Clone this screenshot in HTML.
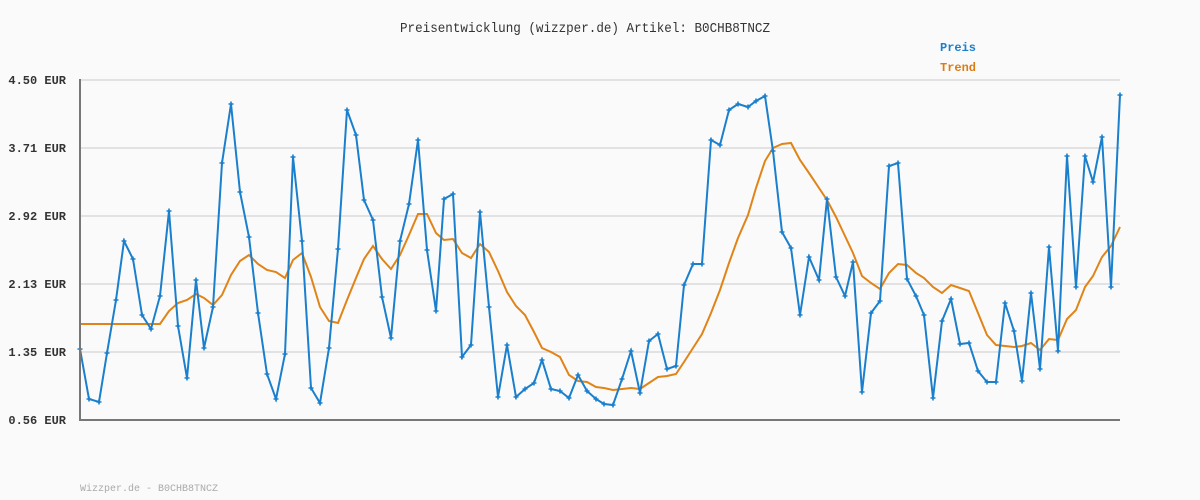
<!DOCTYPE html>
<html><head><meta charset="utf-8"><style>body{margin:0;background:#fafafa}svg{display:block}</style></head><body>
<svg width="1200" height="500" xmlns="http://www.w3.org/2000/svg" font-family="Liberation Mono, monospace">
<defs><marker id="mk" viewBox="-3 -3 6 6" markerWidth="6" markerHeight="6" markerUnits="userSpaceOnUse" refX="0" refY="0"><path d="M-2.5 0h5M0 -2.5v5" stroke="#1a7fcc" stroke-width="1.6"/></marker></defs>
<rect width="1200" height="500" fill="#fafafa"/>
<g stroke="#e2e2e2" stroke-width="2">
<line x1="80" y1="80" x2="1120" y2="80"/><line x1="80" y1="148" x2="1120" y2="148"/><line x1="80" y1="216" x2="1120" y2="216"/><line x1="80" y1="284" x2="1120" y2="284"/><line x1="80" y1="352" x2="1120" y2="352"/>
</g>
<g fill="#333" font-size="12" font-weight="bold" text-anchor="end">
<text x="66" y="84">4.50 EUR</text><text x="66" y="152">3.71 EUR</text><text x="66" y="220">2.92 EUR</text><text x="66" y="288">2.13 EUR</text><text x="66" y="356">1.35 EUR</text><text x="66" y="424">0.56 EUR</text>
</g>
<text x="400" y="32" font-size="14" fill="#333" textLength="370" lengthAdjust="spacingAndGlyphs">Preisentwicklung (wizzper.de) Artikel: B0CHB8TNCZ</text>
<text x="940" y="51" font-size="12" font-weight="bold" fill="#1a7fcc">Preis</text>
<text x="940" y="71" font-size="12" font-weight="bold" fill="#dc7c14">Trend</text>
<text x="80" y="491" font-size="10" fill="#aaa">Wizzper.de - B0CHB8TNCZ</text>
<polyline fill="none" stroke="#e08418" stroke-width="2" points="80,324 160,324 169,311 178,303 187,300 196,294 204,298 213,305 222,295 231,275 240,261 249,255 258,264 267,270 276,272 285,278 293,260 302,253 311,277 320,307 329,321 338,323 347,300 356,278 364,259 373,246 382,259 391,269 400,255 409,235 418,214 427,214 436,233 444,240 453,239 462,253 471,258 480,244 489,252 498,271 507,292 516,306 525,315 534,332 542,348 551,352 560,357 569,375 578,381 587,382 596,387 604,388 613,390 622,389 631,388 640,389 649,383 658,377 667,376 676,374 684,362 693,348 702,334 711,313 720,290 729,263 738,238 748,215 756,188 765,161 773,148 782,144 791,143 800,160 809,173 819,188 827,200 836,217 845,236 853,253 862,276 871,283 880,289 889,273 898,264 907,265 916,273 924,278 933,287 942,293 951,285 960,288 969,291 978,313 987,335 996,345 1005,346 1014,347 1022,346 1031,343 1040,350 1049,339 1058,340 1067,319 1076,310 1085,287 1093,276 1102,257 1111,246 1120,227"/>
<polyline fill="none" stroke="#1a7fcc" stroke-width="2" marker-start="url(#mk)" marker-mid="url(#mk)" marker-end="url(#mk)" points="80,349 89,399 99,402 107,353 116,300 124,241 133,259 142,315 151,329 160,296 169,211 178,326 187,378 196,280 204,348 213,307 222,163 231,104 240,192 249,237 258,313 267,374 276,399 285,354 293,157 302,241 311,388 320,403 329,348 338,249 347,110 356,135 364,200 373,220 382,297 391,338 400,241 409,204 418,140 427,250 436,311 444,199 453,194 462,357 471,345 480,212 489,307 498,397 507,345 516,397 525,389 534,383 542,360 551,389 560,391 569,398 578,375 587,391 596,399 604,404 613,405 622,379 631,351 640,393 649,341 658,334 667,369 676,366 684,285 693,264 702,264 711,140 720,145 729,110 738,104 748,107 756,101 765,96 773,151 782,232 791,248 800,315 809,257 819,280 827,199 836,277 845,296 853,262 862,392 871,313 880,301 889,166 898,163 907,279 916,296 924,315 933,398 942,321 951,299 960,344 969,343 978,371 987,382 996,382 1005,303 1014,331 1022,381 1031,293 1040,369 1049,247 1058,351 1067,156 1076,287 1085,156 1093,182 1102,137 1111,287 1120,95"/>
<g stroke="#777" stroke-width="2"><line x1="80" y1="79" x2="80" y2="421"/><line x1="79" y1="420" x2="1120" y2="420"/></g>
</svg>
</body></html>
